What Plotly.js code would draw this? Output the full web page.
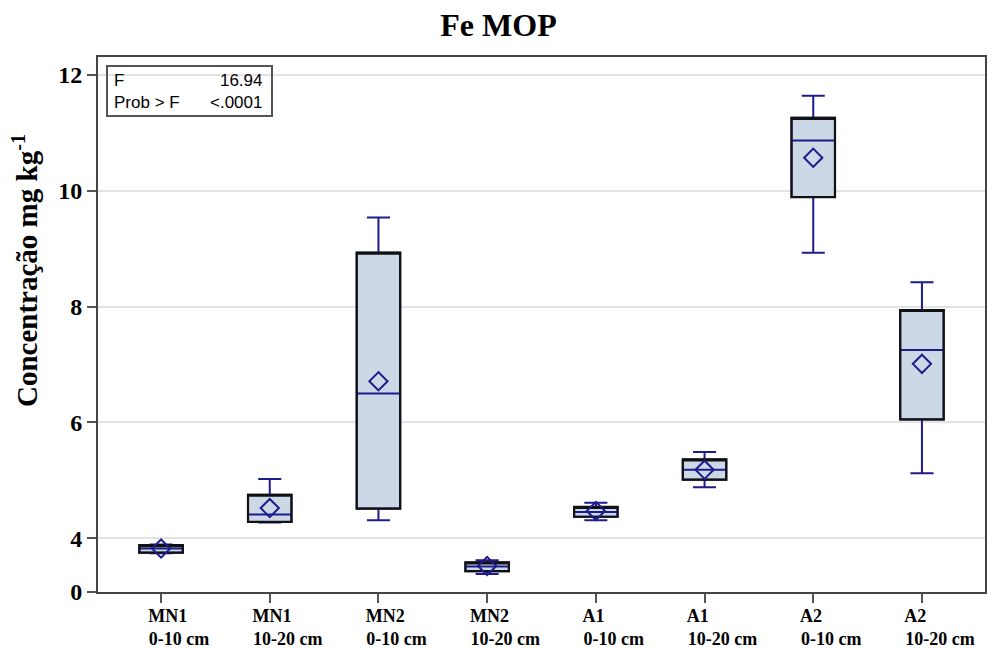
<!DOCTYPE html>
<html>
<head>
<meta charset="utf-8">
<script src="https://cdn.plot.ly/plotly-3.0.1.min.js"></script>
<style>html,body{margin:0;padding:0;background:#fff}#chart{width:997px;height:648px}</style>
</head>
<body>
<div id="chart"></div>
<script>
var NB = '\u00A0';
function pad(n){ return NB.repeat(n); }
var categories = [
  'MN1' + pad(5) + '<br>0-10 cm',
  'MN1' + pad(7) + '<br>10-20 cm',
  'MN2' + pad(5) + '<br>0-10 cm',
  'MN2' + pad(7) + '<br>10-20 cm',
  'A1' + pad(9) + '<br>0-10 cm',
  'A1' + pad(11) + '<br>10-20 cm',
  'A2' + pad(9) + '<br>0-10 cm',
  'A2' + pad(11) + '<br>10-20 cm'
];
var lowerWhisker = [3.74, 4.27, 4.31, 3.38, 4.31, 4.88, 8.93, 5.12];
var q1Values     = [3.75, 4.28, 4.51, 3.43, 4.37, 5.01, 9.89, 6.05];
var medianValues = [3.82, 4.41, 6.50, 3.51, 4.45, 5.18, 10.87, 7.25];
var q3Values     = [3.88, 4.75, 8.93, 3.58, 4.54, 5.36, 11.26, 7.94];
var upperWhisker = [3.89, 5.02, 9.54, 3.62, 4.61, 5.49, 11.64, 8.42];
var meanValues   = [3.82, 4.52, 6.71, 3.52, 4.47, 5.18, 10.57, 7.01];
var yTickVals = [3.07, 4, 6, 8, 10, 12];
var yTickText = ['0', '4', '6', '8', '10', '12'];
var statLabels = ['F', 'Prob > F'];
var statValues = ['16.94', '&lt;.0001'];

var navy = '#1c1c8c';
var fill = '#cdd8e7';
var serif = 'Liberation Serif, Times New Roman, serif';
var sans = 'Liberation Sans, Arial, sans-serif';

var traces = [
  {
    type: 'box', x: categories,
    lowerfence: lowerWhisker, q1: q1Values, median: medianValues,
    q3: q3Values, upperfence: upperWhisker,
    width: 0.4, whiskerwidth: 0.53,
    fillcolor: fill, line: {color: navy, width: 2},
    boxpoints: false, hoverinfo: 'skip', showlegend: false
  },
  {
    type: 'box', x: categories,
    lowerfence: q1Values, q1: q1Values, median: q3Values,
    q3: q3Values, upperfence: q3Values,
    width: 0.4, whiskerwidth: 0,
    fillcolor: 'rgba(0,0,0,0)', line: {color: '#111111', width: 2.2},
    boxpoints: false, hoverinfo: 'skip', showlegend: false
  },
  {
    type: 'scatter', mode: 'markers', x: categories, y: meanValues,
    marker: {symbol: 'diamond-open', size: 14, color: navy, line: {color: navy, width: 2}},
    hoverinfo: 'skip', showlegend: false
  }
];

var layout = {
  width: 997, height: 648,
  paper_bgcolor: '#ffffff', plot_bgcolor: '#ffffff',
  margin: {l: 98, r: 12, t: 57, b: 56},
  boxmode: 'overlay',
  title: {text: '<b>Fe MOP</b>', font: {family: serif, size: 32, color: '#000'},
          x: 0.5, xanchor: 'center', y: 0.961, yanchor: 'middle', yref: 'container'},
  xaxis: {
    type: 'category', range: [-0.58, 7.58],
    showline: true, linecolor: '#444', linewidth: 2, mirror: true,
    ticks: 'outside', ticklen: 9, tickwidth: 2, tickcolor: '#555',
    showgrid: false, zeroline: false,
    tickfont: {family: serif, size: 18, color: '#000', weight: 'bold'},
    ticklabelshift: 18, ticklabelstandoff: -3
  },
  yaxis: {
    range: [3.07, 12.31], tickvals: yTickVals, ticktext: yTickText,
    showline: true, linecolor: '#444', linewidth: 2, mirror: true,
    ticks: 'outside', ticklen: 9, tickwidth: 2, tickcolor: '#555',
    showgrid: true, gridcolor: '#e3e3e3', gridwidth: 2, zeroline: false,
    tickfont: {family: serif, size: 24, color: '#000', weight: 'bold'}
  },
  shapes: [
    {type: 'rect', xref: 'paper', yref: 'paper',
     x0: 9 / 887, x1: 174 / 887, y0: (592 - 116) / 535, y1: (592 - 66) / 535,
     line: {color: '#555', width: 2}, fillcolor: 'rgba(0,0,0,0)'}
  ],
  annotations: [
    {xref: 'paper', yref: 'paper', x: 14 / 887, y: (592 - 91) / 535, xanchor: 'left', yanchor: 'middle',
     align: 'left', showarrow: false, text: statLabels.join('<br>'),
     font: {family: sans, size: 17, color: '#000'}},
    {xref: 'paper', yref: 'paper', x: 166 / 887, y: (592 - 91) / 535, xanchor: 'right', yanchor: 'middle',
     align: 'right', showarrow: false, text: statValues.join('<br>'),
     font: {family: sans, size: 17, color: '#000'}},
    {xref: 'paper', yref: 'paper', x: -73 / 887, y: (592 - 271) / 535, xanchor: 'center', yanchor: 'middle',
     textangle: -90, showarrow: false, text: '<b>Concentração mg kg<sup>-1</sup></b>',
     font: {family: serif, size: 29, color: '#000'}}
  ]
};

Plotly.newPlot('chart', traces, layout, {displayModeBar: false, staticPlot: true});
</script>
</body>
</html>
